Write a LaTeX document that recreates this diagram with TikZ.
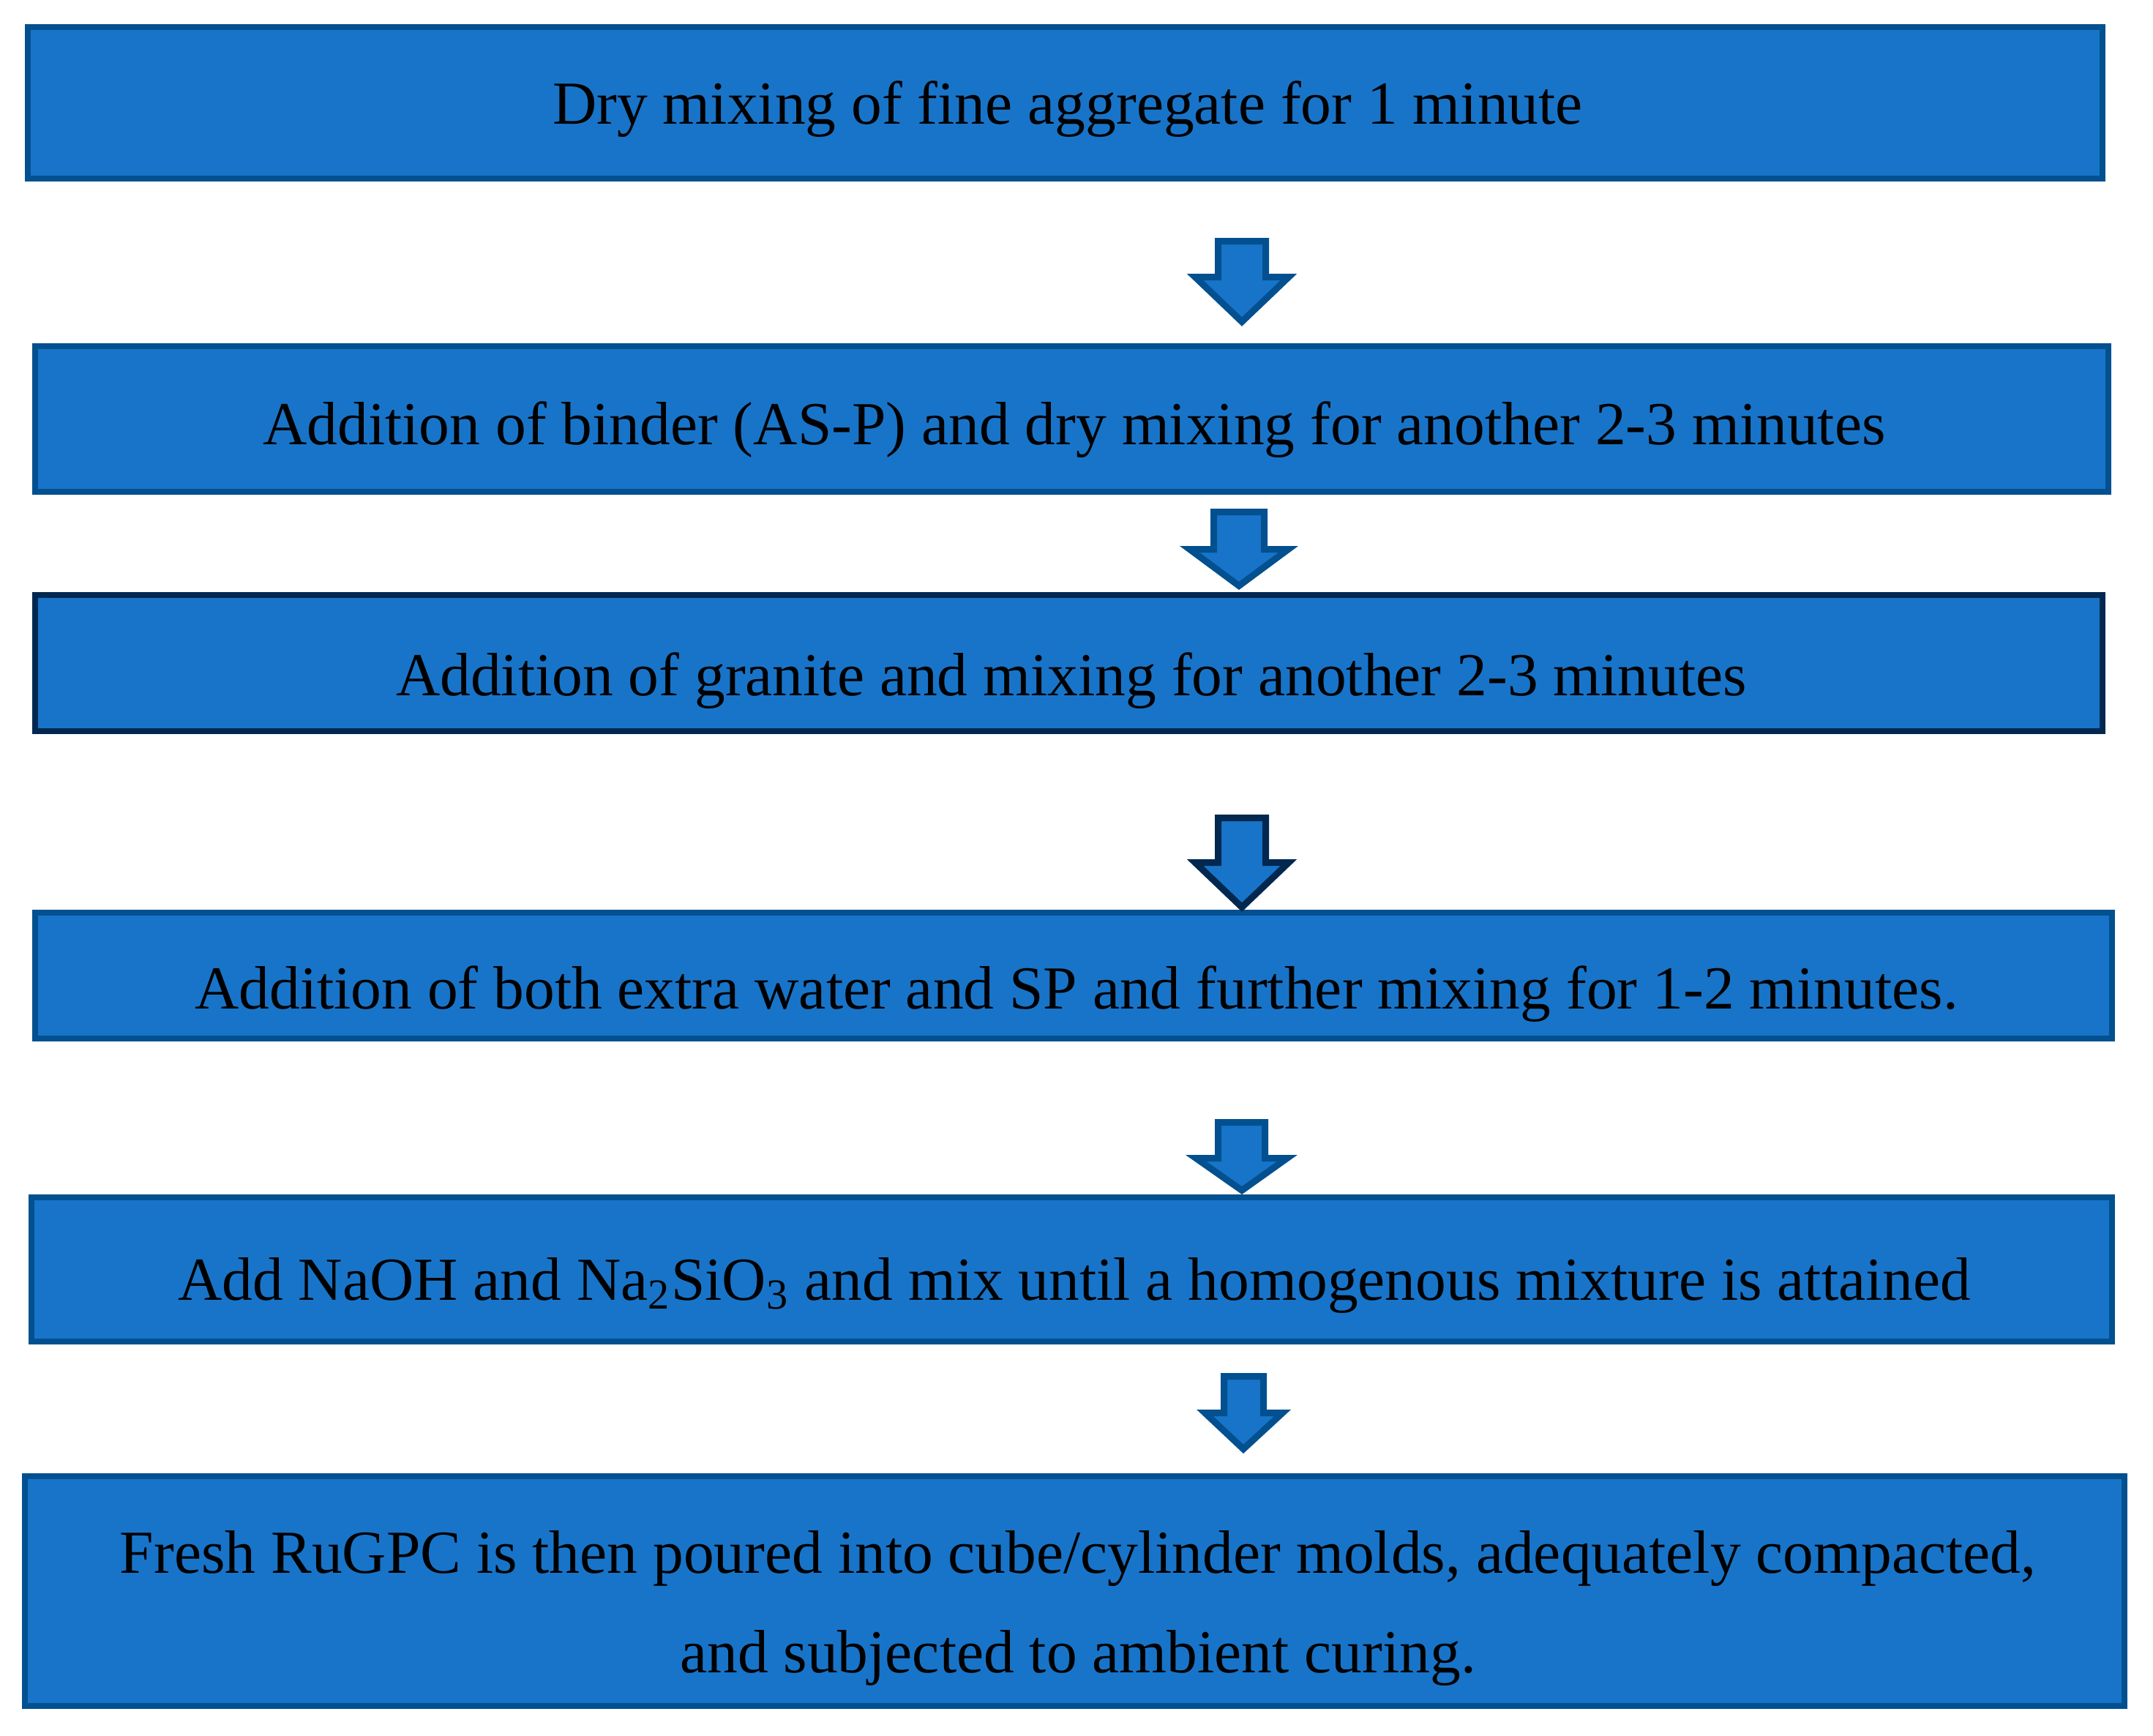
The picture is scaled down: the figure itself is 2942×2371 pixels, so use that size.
\documentclass[tikz,border=0pt]{standalone}
\usepackage{fontspec}
\setmainfont{Liberation Serif}
\definecolor{stepfill}{RGB}{24,116,200}
\definecolor{stepline}{RGB}{2,80,143}
\definecolor{stepdark}{RGB}{2,40,80}
\begin{document}
\begin{tikzpicture}[line join=miter,x=0.2pt,y=-0.2pt,
	stepbox/.style={draw=stepline,fill=stepfill,line width=1.7pt,inner sep=0pt},
	steptext/.style={anchor=base,inner sep=0pt,font=\fontsize{16.7}{26.7}\selectfont},
	flowarrow/.style={draw=stepline,fill=stepfill,line width=1.8pt,miter limit=10}]
				\fill[white] (0,0) rectangle (2942,2371);
				\useasboundingbox (0,0) rectangle (2942,2371);
				\node[stepbox,minimum width=567pt,minimum height=41.4pt] (s1) at (1455.5,140.5) {};
				\node[stepbox,minimum width=566.6pt,minimum height=39.8pt] (s2) at (1464.5,572.5) {};
				\node[stepbox,draw=stepdark,minimum width=565pt,minimum height=37.2pt] (s3) at (1460.5,906) {};
				\node[stepbox,minimum width=567.6pt,minimum height=34.4pt] (s4) at (1467,1333) {};
				\node[stepbox,minimum width=568.6pt,minimum height=39.4pt] (s5) at (1464.5,1734.5) {};
				\node[stepbox,minimum width=573.8pt,minimum height=62.8pt] (s6) at (1468.5,2174) {};
				\node[steptext] (t1) at (1459,170) {Dry mixing of fine aggregate for 1 minute};
				\node[steptext] (t2) at (1468,607) {Addition of binder (AS-P) and dry mixing for another 2-3 minutes};
				\node[steptext] (t3) at (1464,950) {Addition of granite and mixing for another 2-3 minutes};
				\node[steptext] (t4) at (1471,1378) {Addition of both extra water and SP and further mixing for 1-2 minutes.};
				\node[steptext] (t5) at (1468,1776) {Add NaOH and Na\textsubscript{2}SiO\textsubscript{3} and mix until a homogenous mixture is attained};
				\node[steptext] (t6a) at (1473,2149) {Fresh RuGPC is then poured into cube/cylinder molds, adequately compacted,};
				\node[steptext] (t6b) at (1473,2285) {and subjected to ambient curing.};
				\draw[flowarrow] (1664.5,329.5) -- (1729.5,329.5) -- (1729.5,378.5) -- (1761,378.5) -- (1697,439.6) -- (1633,378.5) -- (1664.5,378.5) -- cycle;
				\draw[flowarrow] (1658.5,699.5) -- (1727.5,699.5) -- (1727.5,750.5) -- (1760.4,750.5) -- (1693,800.4) -- (1625.6,750.5) -- (1658.5,750.5) -- cycle;
				\draw[flowarrow,draw=stepdark] (1664.5,1117.5) -- (1729.5,1117.5) -- (1729.5,1178.5) -- (1761,1178.5) -- (1697,1239.6) -- (1633,1178.5) -- (1664.5,1178.5) -- cycle;
				\draw[flowarrow] (1664.5,1533.5) -- (1728.5,1533.5) -- (1728.5,1582.5) -- (1758.8,1582.5) -- (1697,1626.5) -- (1634.2,1582.5) -- (1664.5,1582.5) -- cycle;
				\draw[flowarrow] (1672.5,1880.5) -- (1726.5,1880.5) -- (1726.5,1930.5) -- (1752.5,1930.5) -- (1699,1979.9) -- (1646.5,1930.5) -- (1672.5,1930.5) -- cycle;
			\end{tikzpicture}
\end{document}
